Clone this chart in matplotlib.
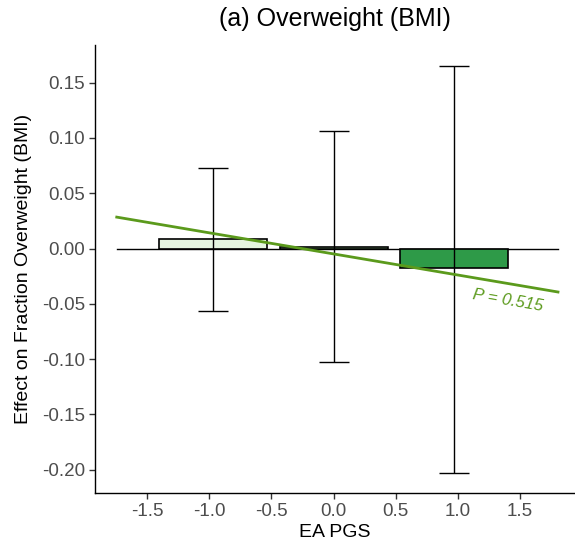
import numpy as np
import matplotlib.pyplot as plt

plt.rcParams["font.family"] = ["Liberation Sans", "DejaVu Sans"]

# データ
pgs_centers = [-0.97, 0.0, 0.97]
effects = [0.0086, 0.0015, -0.0176]
ci_low = [-0.0564, -0.1024, -0.2027]
ci_high = [0.0727, 0.106, 0.1648]
bar_colors = ["#e5f5e0", "#a1d99b", "#2e9a48"]

# 回帰直線の端点
line_x = [-1.745, 1.806]
line_y = [0.0284, -0.0393]
p_label = "P = 0.515"

fig = plt.figure(figsize=(5.75, 5.52), dpi=100)
ax = fig.add_axes([95 / 575, 59 / 552, 480 / 575, 448 / 552])

ax.bar(pgs_centers, effects, width=0.87, color=bar_colors,
       edgecolor="black", linewidth=1.2, zorder=2)

eff = np.array(effects)
yerr = [eff - np.array(ci_low), np.array(ci_high) - eff]
ax.errorbar(pgs_centers, effects, yerr=yerr, fmt="none", ecolor="black",
            elinewidth=1.0, capsize=10.5, capthick=1.0, zorder=3)

ax.plot(line_x, [0, 0], color="black", linewidth=1.0, zorder=1)
ax.plot(line_x, line_y, color="#5b9a1c", linewidth=2.0, zorder=4)

ax.text(1.40, -0.047, p_label, color="#5b9a1c", fontsize=12, style="italic",
        rotation=-9.7, ha="center", va="center")

ax.set_xlim(-1.92, 1.943)
ax.set_ylim(-0.221, 0.184)
ax.set_xticks([-1.5, -1.0, -0.5, 0.0, 0.5, 1.0, 1.5])
ax.set_xticklabels(["-1.5", "-1.0", "-0.5", "0.0", "0.5", "1.0", "1.5"])
ax.set_yticks([-0.20, -0.15, -0.10, -0.05, 0.0, 0.05, 0.10, 0.15])
ax.set_yticklabels(["-0.20", "-0.15", "-0.10", "-0.05", "0.00", "0.05", "0.10", "0.15"])

for s in ["top", "right"]:
    ax.spines[s].set_visible(False)
for s in ["left", "bottom"]:
    ax.spines[s].set_linewidth(1.0)
ax.tick_params(axis="both", direction="out", length=4, width=1.0,
               color="#333333", labelcolor="#4d4d4d", labelsize=13.5, pad=3)

ax.set_xlabel("EA PGS", fontsize=14, labelpad=3)
ax.set_ylabel("Effect on Fraction Overweight (BMI)", fontsize=14, labelpad=7)
ax.set_title("(a) Overweight (BMI)", fontsize=18, pad=14)

fig.savefig("out.png", dpi=100)
